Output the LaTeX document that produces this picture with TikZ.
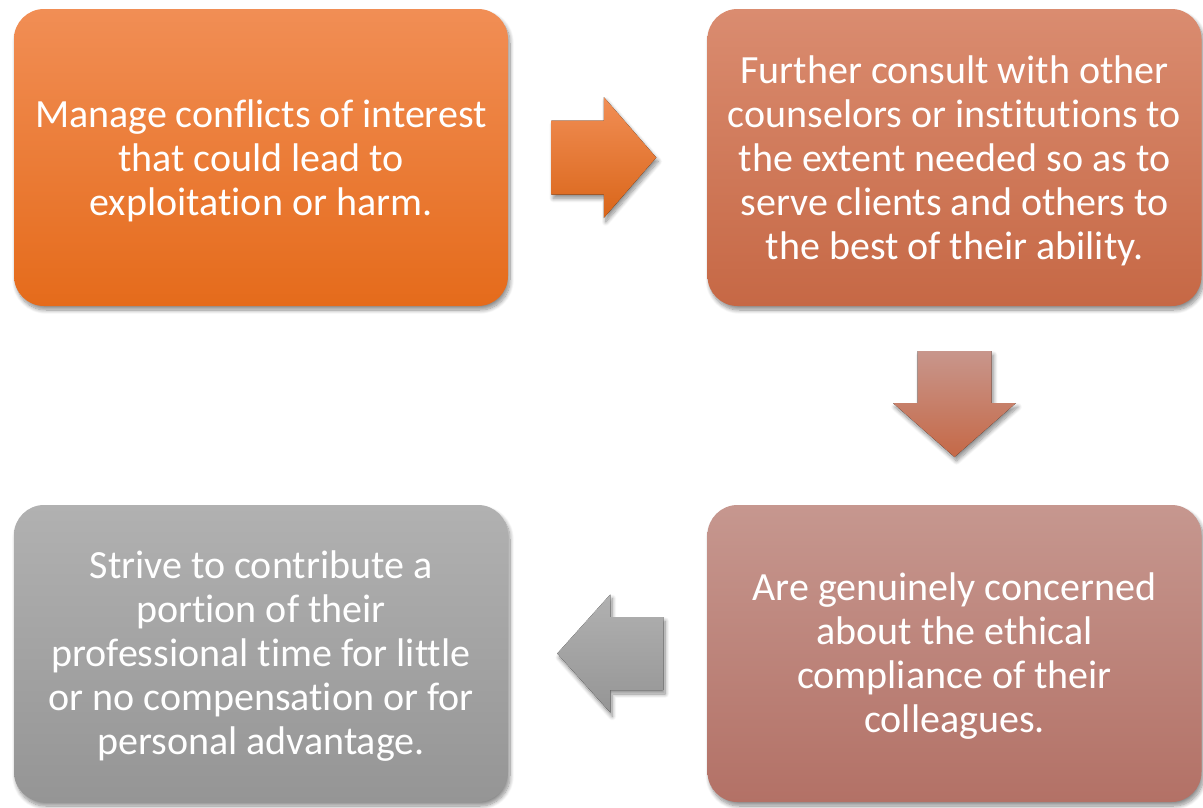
\documentclass[tikz,border=0pt]{standalone}
\usepackage{fontspec}
\setmainfont{Carlito}[Ligatures={NoCommon}]
\usetikzlibrary{calc,shadows.blur}

\definecolor{orTop}{HTML}{F18E55}
\definecolor{orBot}{HTML}{E56B1B}
\definecolor{rsTop}{HTML}{DA8C70}
\definecolor{rsBot}{HTML}{C66845}
\definecolor{pkTop}{HTML}{C6978F}
\definecolor{pkBot}{HTML}{B37166}
\definecolor{gyTop}{HTML}{B1B1B1}
\definecolor{gyBot}{HTML}{959595}

\tikzset{
  softshadow/.style={blur shadow={shadow xshift=2pt, shadow yshift=-4pt,
      shadow blur radius=4pt, shadow blur steps=10, shadow opacity=45}},
  stepbox/.style={rounded corners=30pt, minimum width=494pt, minimum height=297pt,
      inner sep=0pt, softshadow},
  steptext/.style={inner sep=0pt, align=center, text=white, yshift=-3pt,
      font=\fontsize{40}{44}\selectfont},
  blockarrow/.style={softshadow},
}

\begin{document}
\begin{tikzpicture}[x=1pt,y=-1pt]
  \useasboundingbox (0,0) rectangle (1203,807);

  % the four steps
  \node[stepbox, top color=orTop, bottom color=orBot] (b1) at (261,157.5) {};
  \node[stepbox, top color=rsTop, bottom color=rsBot] (b2) at (954.5,157.5) {};
  \node[stepbox, top color=pkTop, bottom color=pkBot] (b3) at (954.5,653.5) {};
  \node[stepbox, top color=gyTop, bottom color=gyBot] (b4) at (261,653.5) {};

  \node[steptext] (t1) at (b1.center)
    {Manage conflicts of interest\\that could lead to\\exploitation or harm.};
  \node[steptext] (t2) at (b2.center)
    {Further consult with other\\counselors or institutions to\\the extent needed so as to\\serve clients and others to\\the best of their ability.};
  \node[steptext] (t3) at (b3.center)
    {Are genuinely concerned\\about the ethical\\compliance of their\\colleagues.};
  \node[steptext] (t4) at (b4.center)
    {Strive to contribute a\\portion of their\\professional time for little\\or no compensation or for\\personal advantage.};

  % block arrows placed midway between neighbouring steps
  \coordinate (m12) at ($(b1.east)!0.5!(b2.west)+(-4,0)$);
  \coordinate (m23) at ($(b2.south)!0.5!(b3.north)+(0,-1.5)$);
  \coordinate (m34) at ($(b3.west)!0.5!(b4.east)+(2.5,0)$);

  \fill[blockarrow, top color=orTop, bottom color=orBot!95!black]
    (m12) ++(-52.5,-37) -- ++(52.5,0) -- ++(0,-23.5) -- ++(52.5,60.5)
    -- ++(-52.5,60.5) -- ++(0,-23.5) -- ++(-52.5,0) -- cycle;
  \fill[blockarrow, top color=pkTop!90!rsTop, bottom color=rsBot!95!pkBot]
    (m23) ++(-37,-53) -- ++(74,0) -- ++(0,52) -- ++(24.5,0) -- ++(-61.5,54)
    -- ++(-61.5,-54) -- ++(24.5,0) -- cycle;
  \fill[blockarrow, top color=gyTop, bottom color=gyBot]
    (m34) ++(53,-36.5) -- ++(-53,0) -- ++(0,-22.5) -- ++(-53,59)
    -- ++(53,59) -- ++(0,-22.5) -- ++(53,0) -- cycle;
\end{tikzpicture}
\end{document}
